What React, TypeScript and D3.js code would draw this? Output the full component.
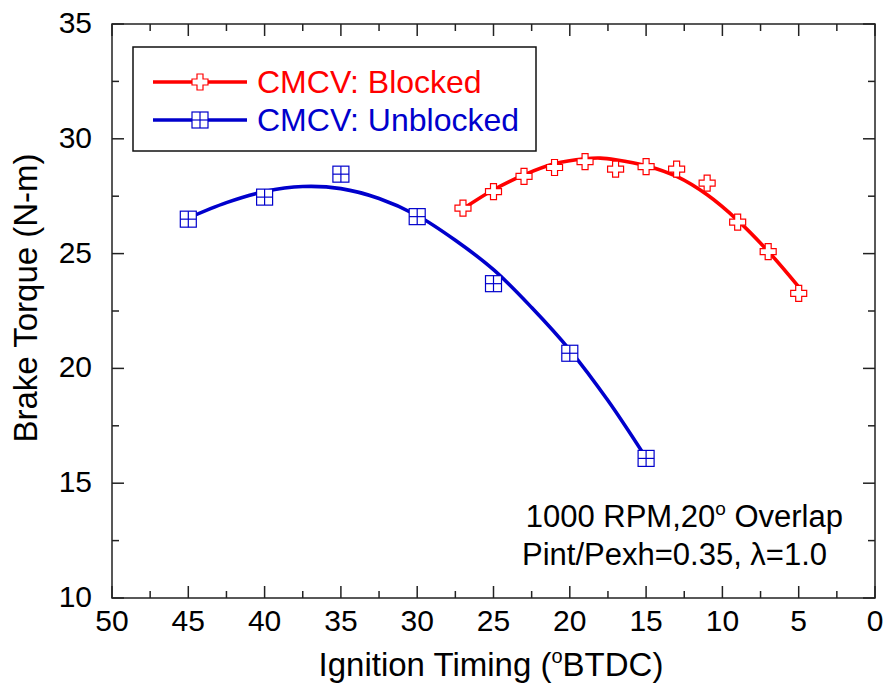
import React from "react";
import * as d3 from "d3";

const W = 884;
const H = 686;

// Measured points
const blockedTiming = [27, 25, 23, 21, 19, 17, 15, 13, 11, 9, 7, 5];
const blockedTorque = [26.98, 27.7, 28.36, 28.75, 29.01, 28.68, 28.79, 28.68, 28.07, 26.37, 25.09, 23.27];

const unblockedTiming = [45, 40, 35, 30, 25, 20, 15];
const unblockedTorque = [26.5, 27.46, 28.46, 26.61, 23.69, 20.66, 16.08];

// Fitted curves
const blockedFitTiming = [27, 25, 23, 21, 19, 18, 17, 15, 13, 11, 9, 7, 5];
const blockedFitTorque = [26.95, 27.78, 28.43, 28.91, 29.13, 29.16, 29.09, 28.83, 28.36, 27.56, 26.45, 25.1, 23.55];

const unblockedFitTiming = [45, 42.5, 40, 37.5, 35, 32.5, 30, 27.5, 25, 22.5, 20, 17.5, 15];
const unblockedFitTorque = [26.55, 27.22, 27.7, 27.92, 27.83, 27.4, 26.66, 25.58, 24.3, 22.65, 20.8, 18.6, 16.1];

const xTicks = [50, 45, 40, 35, 30, 25, 20, 15, 10, 5, 0];
const xMinorTicks = [47.5, 42.5, 37.5, 32.5, 27.5, 22.5, 17.5, 12.5, 7.5, 2.5];
const yTicks = [10, 15, 20, 25, 30, 35];
const yMinorTicks = [12.5, 17.5, 22.5, 27.5, 32.5];

const RED = "#ff0000";
const BLUE = "#0000cc";
const FONT = "'Liberation Sans', Arial, Helvetica, sans-serif";

const left = 112;
const right = 875;
const top = 24;
const bottom = 598;

const x = d3.scaleLinear().domain([50, 0]).range([left, right]);
const y = d3.scaleLinear().domain([10, 35]).range([bottom, top]);

const crossPath = "M -3,-8 H 3 V -3 H 8 V 3 H 3 V 8 H -3 V 3 H -8 V -3 H -3 Z";

function Cross({ cx, cy }: { cx: number; cy: number }) {
  return (
    <path d={crossPath} transform={`translate(${cx},${cy})`} fill="#fff" stroke={RED} strokeWidth={1.2} />
  );
}

function GridSquare({ cx, cy }: { cx: number; cy: number }) {
  const s = 8;
  return (
    <g transform={`translate(${cx},${cy})`} stroke={BLUE} strokeWidth={1.2}>
      <rect x={-s} y={-s} width={2 * s} height={2 * s} fill="#fff" />
      <line x1={0} y1={-s} x2={0} y2={s} />
      <line x1={-s} y1={0} x2={s} y2={0} />
    </g>
  );
}

export default function App() {
  const line = d3
    .line<[number, number]>()
    .x((d) => x(d[0]))
    .y((d) => y(d[1]))
    .curve(d3.curveCatmullRom.alpha(0.5));

  const redPath = line(blockedFitTiming.map((t, i) => [t, blockedFitTorque[i]] as [number, number])) || "";
  const bluePath = line(unblockedFitTiming.map((t, i) => [t, unblockedFitTorque[i]] as [number, number])) || "";

  const axisColor = "#222";
  const majorLen = 12;
  const minorLen = 7;

  return (
    <svg
      width={W}
      height={H}
      style={{ position: "absolute", left: 0, top: 0, background: "#fff" }}
      fontFamily={FONT}
    >
      <rect x={0} y={0} width={W} height={H} fill="#fff" />

      {/* ticks */}
      <g stroke={axisColor} strokeWidth={1.5}>
        {xTicks.map((t) => (
          <g key={"xt" + t}>
            <line x1={x(t)} x2={x(t)} y1={bottom} y2={bottom - majorLen} />
            <line x1={x(t)} x2={x(t)} y1={top} y2={top + majorLen} />
          </g>
        ))}
        {xMinorTicks.map((t) => (
          <g key={"xm" + t}>
            <line x1={x(t)} x2={x(t)} y1={bottom} y2={bottom - minorLen} />
            <line x1={x(t)} x2={x(t)} y1={top} y2={top + minorLen} />
          </g>
        ))}
        {yTicks.map((t) => (
          <g key={"yt" + t}>
            <line x1={left} x2={left + majorLen} y1={y(t)} y2={y(t)} />
            <line x1={right} x2={right - majorLen} y1={y(t)} y2={y(t)} />
          </g>
        ))}
        {yMinorTicks.map((t) => (
          <g key={"ym" + t}>
            <line x1={left} x2={left + minorLen} y1={y(t)} y2={y(t)} />
            <line x1={right} x2={right - minorLen} y1={y(t)} y2={y(t)} />
          </g>
        ))}
      </g>

      {/* frame */}
      <rect x={left} y={top} width={right - left} height={bottom - top} fill="none" stroke={axisColor} strokeWidth={1.5} />

      {/* tick labels */}
      <g fontSize={30} fill="#000">
        {xTicks.map((t) => (
          <text key={"xl" + t} x={x(t)} y={631} textAnchor="middle">
            {t}
          </text>
        ))}
        {yTicks.map((t) => (
          <text key={"yl" + t} x={92} y={y(t) + 9} textAnchor="end">
            {t}
          </text>
        ))}
      </g>

      {/* axis titles */}
      <text x={491} y={676} textAnchor="middle" fontSize={33} fill="#000">
        Ignition Timing (
        <tspan fontSize={20} dy={-13}>o</tspan>
        <tspan dy={13}>BTDC)</tspan>
      </text>
      <text
        transform={`translate(37,${298}) rotate(-90)`}
        textAnchor="middle"
        fontSize={33}
        fill="#000"
      >
        Brake Torque (N-m)
      </text>

      {/* curves */}
      <path d={bluePath} fill="none" stroke={BLUE} strokeWidth={3.6} />
      <path d={redPath} fill="none" stroke={RED} strokeWidth={3.6} />

      {/* markers */}
      {unblockedTiming.map((t, i) => (
        <GridSquare key={"u" + i} cx={x(t)} cy={y(unblockedTorque[i])} />
      ))}
      {blockedTiming.map((t, i) => (
        <Cross key={"b" + i} cx={x(t)} cy={y(blockedTorque[i])} />
      ))}

      {/* legend */}
      <rect x={133} y={47} width={403} height={104} fill="#fff" stroke="#111" strokeWidth={1.5} />
      <line x1={153} x2={247} y1={82} y2={82} stroke={RED} strokeWidth={3.6} />
      <Cross cx={200} cy={82} />
      <text x={257} y={93} fontSize={32} fill={RED}>
        CMCV: Blocked
      </text>
      <line x1={153} x2={247} y1={120} y2={120} stroke={BLUE} strokeWidth={3.6} />
      <GridSquare cx={200} cy={120} />
      <text x={257} y={131} fontSize={32} fill={BLUE}>
        CMCV: Unblocked
      </text>

      {/* annotation */}
      <g fontSize={31} fill="#000">
        <text x={843} y={527} textAnchor="end">
          1000 RPM,20
          <tspan fontSize={19} dy={-12}>o</tspan>
          <tspan dy={12}> Overlap</tspan>
        </text>
        <text x={522} y={565}>
          Pint/Pexh=0.35, λ=1.0
        </text>
      </g>
    </svg>
  );
}
